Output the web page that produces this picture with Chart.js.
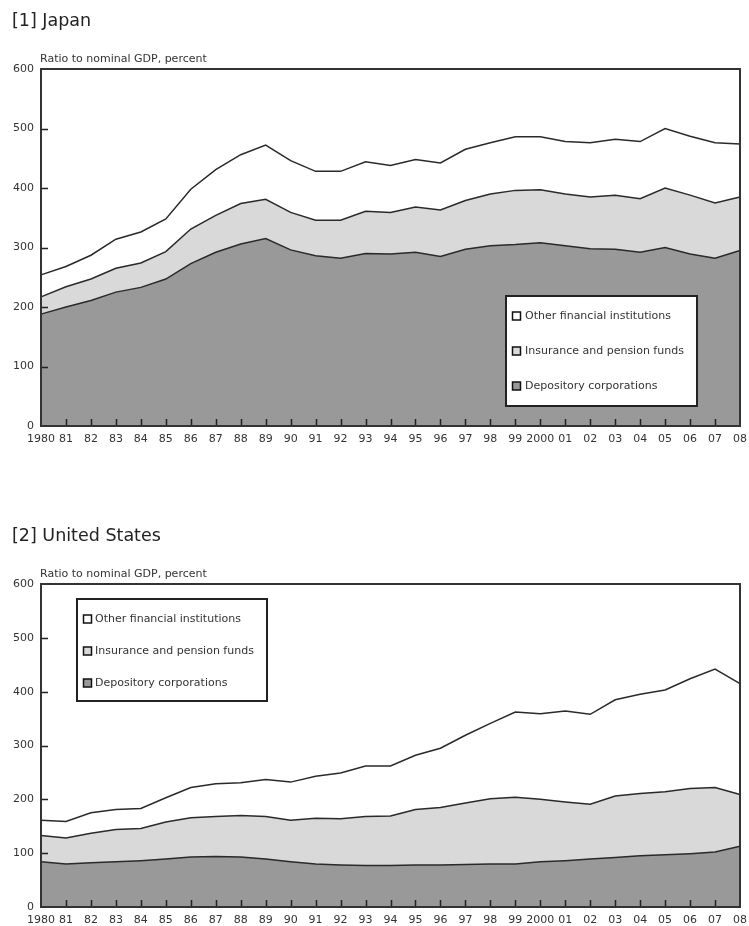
<!DOCTYPE html>
<html>
<head>
<meta charset="utf-8">
<script src="https://cdn.jsdelivr.net/npm/chart.js@4.4.1/dist/chart.umd.min.js"></script>
<style>
  html, body { margin: 0; padding: 0; background: #fff; }
  body { width: 749px; height: 926px; position: relative; overflow: hidden; }
  canvas { position: absolute; left: 0; }
  #jp { top: 0; }
  #us { top: 465px; }
</style>
</head>
<body>
<canvas id="jp" width="749" height="460"></canvas>
<canvas id="us" width="749" height="461"></canvas>
<script>
// years on the x axis
const years = ['1980','81','82','83','84','85','86','87','88','89','90','91','92','93','94',
  '95','96','97','98','99','2000','01','02','03','04','05','06','07','08'];

// Japan, ratio to nominal GDP (percent), stacked pieces
const jpDepository = [188,200,211,225,233,247,273,292,306,315,296,286,282,290,289,292,285,297,303,305,308,303,298,297,292,300,289,282,295];
const jpInsurance  = [29,34,36,40,41,46,58,62,68,66,63,60,64,71,70,76,78,82,87,91,89,87,87,91,90,100,99,93,90];
const jpOther      = [37,34,40,49,52,55,67,77,82,91,87,82,82,83,79,80,79,86,86,90,89,88,91,94,96,100,99,101,89];

// United States
const usDepository = [84,80,82,84,86,89,93,94,93,89,84,80,78,77,77,78,78,79,80,80,84,86,89,92,95,97,99,102,113];
const usInsurance  = [49,48,55,60,60,69,73,74,77,79,77,85,86,91,92,103,107,114,121,124,116,109,102,114,116,117,121,120,96];
const usOther      = [28,31,38,37,37,45,56,61,61,69,71,78,85,94,93,101,110,126,140,158,159,169,167,179,184,189,204,220,206];

const seriesNames = ['Depository corporations', 'Insurance and pension funds', 'Other financial institutions'];
const yMin = 0, yMax = 600, yStep = 100;

const FONT = '"DejaVu Sans", sans-serif';

function decor(opts) {
  return {
    id: 'decor',
    afterDraw(chart) {
      const ctx = chart.ctx, a = chart.chartArea;
      const xs = chart.scales.x, ys = chart.scales.y;
      ctx.save();
      // panel title + unit
      ctx.textAlign = 'left';
      ctx.textBaseline = 'alphabetic';
      ctx.fillStyle = '#222';
      ctx.font = '17.5px ' + FONT;
      ctx.fillText(opts.title, 12, opts.titleY);
      ctx.fillStyle = '#333';
      ctx.font = '11px ' + FONT;
      ctx.fillText('Ratio to nominal GDP, percent', 40, opts.unitY);

      // tick marks pointing inward
      ctx.strokeStyle = '#222';
      ctx.lineWidth = 1.5;
      ctx.beginPath();
      ys.ticks.forEach(t => {
        if (t.value > yMin && t.value < yMax) {
          const py = Math.round(ys.getPixelForValue(t.value)) + 0.5;
          ctx.moveTo(a.left, py); ctx.lineTo(a.left + 7, py);
        }
      });
      for (let i = 1; i < years.length - 1; i++) {
        const px = Math.round(xs.getPixelForValue(i)) + 0.5;
        ctx.moveTo(px, a.bottom); ctx.lineTo(px, a.bottom - 7);
      }
      ctx.stroke();

      // frame
      ctx.lineWidth = 2;
      ctx.strokeStyle = '#333';
      ctx.strokeRect(a.left, a.top, a.right - a.left, a.bottom - a.top);

      // legend box
      const L = opts.legend;
      ctx.fillStyle = '#fff';
      ctx.fillRect(L.x, L.y, L.w, L.h);
      ctx.strokeStyle = '#222';
      ctx.strokeRect(L.x, L.y, L.w, L.h);
      const items = chart.data.datasets.slice().reverse();
      items.forEach((d, i) => {
        const cy = L.y + L.first + i * L.gap;
        ctx.fillStyle = d.backgroundColor;
        ctx.fillRect(L.x + 6.5, cy - 4, 8, 8);
        ctx.lineWidth = 1.5;
        ctx.strokeStyle = '#111';
        ctx.strokeRect(L.x + 6.5, cy - 4, 8, 8);
        ctx.fillStyle = '#333';
        ctx.font = '11px ' + FONT;
        ctx.textBaseline = 'middle';
        ctx.fillText(d.label, L.x + L.textX, cy);
      });
      ctx.restore();
    }
  };
}

function makeChart(id, dep, ins, oth, opts) {
  const ctx = document.getElementById(id).getContext('2d');
  const line = { borderColor: '#2a2a2a', borderWidth: 1.5, pointRadius: 0, tension: 0 };
  return new Chart(ctx, {
    type: 'line',
    data: {
      labels: years,
      datasets: [
        Object.assign({ label: seriesNames[0], data: dep, backgroundColor: '#999999', fill: 'origin' }, line),
        Object.assign({ label: seriesNames[1], data: ins, backgroundColor: '#d9d9d9', fill: '-1' }, line),
        Object.assign({ label: seriesNames[2], data: oth, backgroundColor: '#ffffff', fill: '-1' }, line)
      ]
    },
    options: {
      responsive: false,
      animation: false,
      layout: { padding: { top: opts.padTop, right: 9, bottom: opts.padBottom, left: 0 } },
      plugins: { legend: { display: false }, tooltip: { enabled: false } },
      scales: {
        x: {
          offset: false,
          grid: { display: false, drawTicks: false },
          border: { display: false },
          ticks: { autoSkip: false, maxRotation: 0, padding: 7, color: '#333', font: { family: FONT, size: 11 } },
          afterFit: s => { s.height = opts.xHeight; s.paddingLeft = 0; s.paddingRight = 0; }
        },
        y: {
          stacked: true,
          min: yMin, max: yMax,
          grid: { display: false, drawTicks: false },
          border: { display: false },
          ticks: { stepSize: yStep, padding: 7, color: '#333', font: { family: FONT, size: 11 } },
          afterFit: s => { s.width = 41; s.paddingTop = 0; s.paddingBottom = 0; }
        }
      }
    },
    plugins: [decor(opts)]
  });
}

makeChart('jp', jpDepository, jpInsurance, jpOther, {
  title: '[1] Japan', titleY: 26, unitY: 62,
  padTop: 69, padBottom: 6, xHeight: 28,
  legend: { x: 506, y: 296, w: 191, h: 110, first: 20, gap: 35, textX: 19 }
});

makeChart('us', usDepository, usInsurance, usOther, {
  title: '[2] United States', titleY: 76, unitY: 112,
  padTop: 119, padBottom: 0, xHeight: 19,
  legend: { x: 77, y: 134, w: 190, h: 102, first: 20, gap: 32, textX: 18 }
});
</script>
</body>
</html>
